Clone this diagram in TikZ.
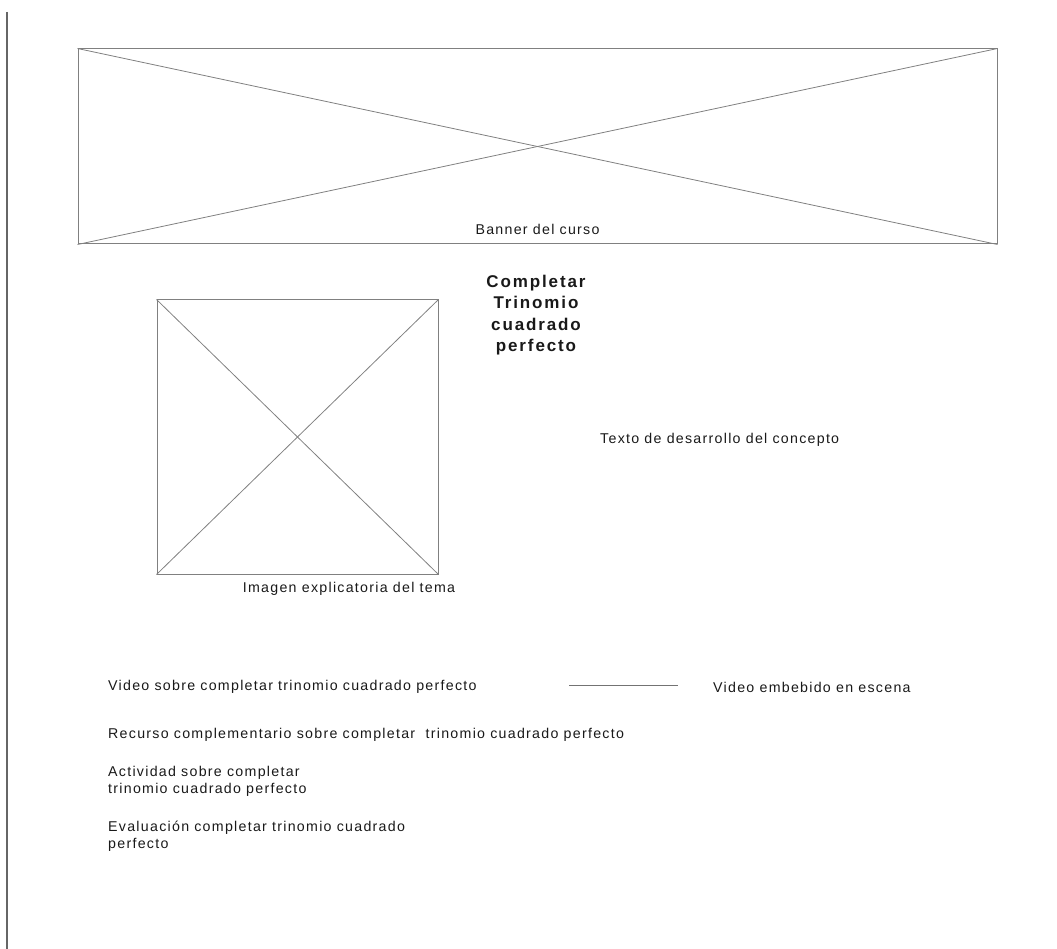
\documentclass[tikz,border=0pt]{standalone}
\usepackage{fontspec}
\setmainfont{Liberation Sans}
\newfontfamily\wirefont[LetterSpace=9]{Liberation Sans}
\newfontfamily\titlefont[LetterSpace=11]{Liberation Sans}
\usetikzlibrary{positioning}

\begin{document}
\begin{tikzpicture}[x=1pt,y=-1pt,
  every node/.style={font=\wirefont\fontsize{14.2}{17}\selectfont, inner sep=0pt, text=black!90},
  imgbox/.style={draw=black!50, line width=1pt},
  cruz/.style={draw=black!50, line width=0.8pt},
  etiqueta/.style={anchor=west, align=left}]
  \useasboundingbox (0,0) rectangle (1057,949);
  \draw[black!60, line width=1.6pt] (7,12) -- (7,949);
  \node[imgbox, minimum width=919pt, minimum height=195pt] (banner) at (537.5,146.5) {};
  \draw[cruz] (banner.north west) -- (banner.south east);
  \draw[cruz] (banner.south west) -- (banner.north east);
  \node (bannertxt) at (537.5,229) {Banner del curso};
  \node[align=center, font=\titlefont\bfseries\fontsize{17}{21.5}\selectfont] (titulo) at (536,315)
    {Completar\\Trinomio\\cuadrado\\perfecto};
  \node[imgbox, minimum width=281pt, minimum height=274pt] (imagen) at (297.5,437) {};
  \draw[cruz] (imagen.north west) -- (imagen.south east);
  \draw[cruz] (imagen.south west) -- (imagen.north east);
  \node (imagentxt) at (349,589) {Imagen explicatoria del tema};
  \node[etiqueta] (desarrollo) at (600,440) {Texto de desarrollo del concepto};
  \node[etiqueta] (video) at (108,687) {Video sobre completar trinomio cuadrado perfecto};
  \node[etiqueta] (embebido) at (713,687) {Video embebido en escena};
  \coordinate (lineaA) at (569,685);
  \coordinate (lineaB) at (678,685);
  \draw[black!55, line width=0.9pt] (lineaA) -- (lineaB);
  \node[etiqueta] (recurso) at (108,735) {Recurso complementario sobre completar\ \ trinomio cuadrado perfecto};
  \node[etiqueta] (actividad) at (108,781.5) {Actividad sobre completar\\trinomio cuadrado perfecto};
  \node[etiqueta] (evaluacion) at (108,836) {Evaluación completar trinomio cuadrado\\perfecto};
\end{tikzpicture}
\end{document}
